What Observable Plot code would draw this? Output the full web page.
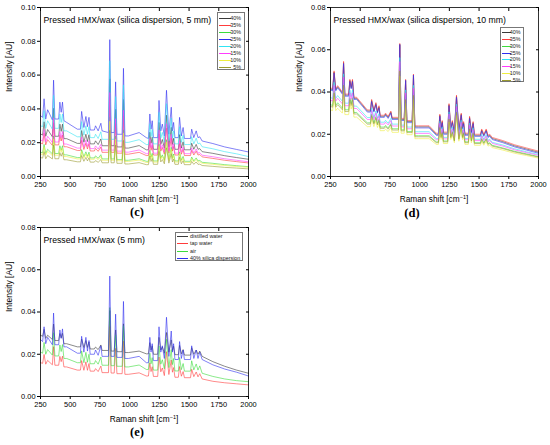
<!DOCTYPE html>
<html><head><meta charset="utf-8">
<script src="https://cdn.jsdelivr.net/npm/d3@7"></script>
<script src="https://cdn.jsdelivr.net/npm/@observablehq/plot@0.6"></script>
<style>
html,body{margin:0;padding:0;background:#fff;}
#page{position:relative;width:550px;height:445px;overflow:hidden;font-family:"Liberation Sans",Arial,sans-serif;color:#000;}
.panel{position:absolute;}
.tag{position:absolute;font-family:"Liberation Serif","Times New Roman",serif;font-weight:bold;font-size:12.5px;transform:translate(-50%,-50%);white-space:nowrap;}
.xlab{position:absolute;font-size:8.3px;transform:translate(-50%,-50%);white-space:nowrap;}
.xlab sup{font-size:5.5px;vertical-align:3px;line-height:0;}
.leg{position:absolute;background:#fff;border:0.6px solid #777;box-sizing:border-box;}
.row{position:absolute;left:0;right:0;font-size:5.4px;line-height:6px;white-space:nowrap;color:#222;}
.sw{position:absolute;height:0;border-top:0.8px solid;}
</style></head>
<body><div id="page"></div>
<script>
// ---------- data (intensities in units of 0.001 AU) ----------
const ramanShift = [250,268,280,294,310,350,360,371,403,413,424,435,447,470,560,586,596,615,632,645,658,668,703,713,735,758,768,822,833,844,870,882,893,937,948,960,990,1080,1140,1158,1170,1180,1190,1200,1236,1247,1262,1275,1292,1310,1330,1350,1360,1370,1381,1410,1420,1435,1450,1461,1512,1522,1540,1560,1575,1590,1610,1700,1800,1900,2000];

const percentLabels = ["40%","35%","30%","25%","20%","15%","10%","5%"];
const waterLabels = ["distilled water","tap water","air","40% silica dispersion"];

// panel (c) silica dispersion, 5 mm
const c40 = [25.2,24.5,32.4,23.8,27.8,23.5,40.4,23.8,23.8,31,26.7,31,22.4,22.4,19.6,19.6,27.2,20.3,25,20.7,24.7,19.3,19.3,21.1,18.9,22.2,18.2,18.2,57.8,18.2,18.2,39.8,17.5,17.5,45.6,16.8,16.8,18.3,15.8,15.8,26.2,19.7,23.3,16.1,16.1,32,19,21.9,16.8,36.3,17.6,29.1,19,22.6,16.1,16.1,24.8,16.8,20.5,15.8,15.8,19.7,16.1,19,16.1,16.5,14.7,13.7,12.3,11.2,10.2];
const c35 = [19.8,19.3,25.6,18.7,21.8,18.4,31.8,18.7,18.7,24.4,21,24.5,17.6,17.6,15.4,15.4,21.4,16,19.7,16.3,19.4,15.1,15.1,16.6,14.9,17.4,14.3,14.3,45.6,14.3,14.3,31.4,13.8,13.8,36,13.2,13.2,14.3,12.4,12.4,20.7,15.5,18.4,12.7,12.7,25.2,15,17.2,13.2,28.6,13.8,22.9,15,17.8,12.7,12.7,19.5,13.2,16.1,12.4,12.4,15.5,12.7,15,12.7,13,11.6,10.7,9.6,8.8,8];
const c30 = [14.4,14,19,13.6,16.1,13.4,24,13.6,13.6,18.2,15.5,18.2,12.8,12.8,11.2,11.2,15.9,11.7,14.6,11.9,14.4,11,11,12.2,10.8,12.9,10.4,10.4,35.2,10.4,10.4,23.9,10,10,27.6,9.6,9.6,10.5,9,9,15.5,11.5,13.7,9.2,9.2,19.1,11,12.8,9.7,21.8,10.1,17.3,11,13.3,9.2,9.2,14.6,9.7,11.9,9,9,11.5,9.2,11,9.2,9.5,8.4,7.8,7,6.4,5.8];
const c25 = [36,35,46,34,39.5,33.5,57,34,34,44,38,44,33,32,28,28,38.5,29,35.5,29.5,35,27.5,27.5,30,27,31.5,27,26,81,26,26,56,25,25,64,24,24,26,23,22.5,37,28,33,23,23,45,27,31,24,51,25,41,27,32,23,23,35,24,29,22.5,22.5,28,23,27,23,23.5,21,19.5,17.5,16,14.5];
const c20 = [30,29.5,39,28.5,33,28,48,28.5,28.5,37,32,37,27,27,23.5,23.5,32.5,24.5,30,25,29.5,23,23,25,22.5,26.5,22,22,68.5,22,22,47.3,21,21,54.2,20.2,20.2,21.8,18.9,18.9,31.2,23.6,27.8,19.3,19.3,38,22.7,26.1,20.2,43.1,21,34.6,22.7,27,19.3,19.3,29.5,20.2,24.4,18.9,18.9,23.6,19.3,22.7,19.3,19.8,17.6,16.4,14.7,13.4,11.8];
const c15 = [21.6,21,27.8,20.4,23.8,20.1,34.7,20.4,20.4,26.6,22.9,26.6,19.2,19.2,16.8,16.8,23.3,17.4,21.5,17.7,21.2,16.5,16.5,18.1,16.2,19,15.6,15.6,49.7,15.6,15.6,34.2,15,15,39.2,14.4,14.4,15.7,13.5,13.5,22.5,16.9,20,13.8,13.8,27.5,16.3,18.8,14.4,31.2,15,25,16.3,19.4,13.8,13.8,21.3,14.4,17.5,13.5,13.5,16.9,13.8,16.3,13.8,14.1,12.6,11.7,10.5,9.6,8.7];
const c10 = [13.3,13,17.6,12.6,14.9,12.4,22.3,12.6,12.6,16.8,14.3,16.8,11.8,11.8,10.4,10.4,14.8,10.8,13.5,11,13.3,10.2,10.2,11.3,10,11.9,9.6,9.6,32.7,9.6,9.6,22.2,9.3,9.3,25.7,8.9,8.9,9.7,8.3,8.3,14.4,10.6,12.7,8.5,8.5,17.8,10.2,11.9,8.9,20.3,9.4,16.1,10.2,12.3,8.5,8.5,13.6,8.9,11,8.3,8.3,10.6,8.5,10.2,8.5,8.7,7.8,7.2,6.5,5.9,5.4];
const c5 = [11.2,10.9,14.7,10.5,12.4,10.4,18.6,10.5,10.5,14.1,12,14.1,9.9,9.9,8.7,8.7,12.4,9,11.3,9.2,11.1,8.5,8.5,9.4,8.4,10,8.1,8.1,27.3,8.1,8.1,18.6,7.8,7.8,21.4,7.4,7.4,8.2,7,7,12.1,8.9,10.7,7.2,7.2,14.9,8.6,10,7.5,17,7.9,13.5,8.6,10.3,7.2,7.2,11.4,7.5,9.3,7,7,8.9,7.2,8.6,7.2,7.3,6.5,6,5.4,5,4.5];

// panel (d) silica dispersion, 10 mm
const d40 = [41.5,41,49.5,41,42.5,39.5,54,38.5,38.5,45.5,42,45.5,37,37,31,31,36,31,34.5,30.5,33,28.5,28.5,29.5,28,30.5,27.5,27.5,62.5,27,27,45.5,26,26,48,23.5,23.5,23.5,20,20,29,23,26,20.5,20.5,34,23,26,21,38,22,29.5,23,25.5,20,20,28,21,25.5,19.5,19.5,22,19.5,22,19,19.5,18,16.5,14.5,13,11.5];
const d35 = [42,41.5,50,41.5,43,40,54.5,39,39,46,42.5,46,37.5,37.5,31.5,31.5,36.5,31.5,35,31,33.5,29,29,30,28.5,31,28,28,63,27.5,27.5,46,26.5,26.5,48.5,24,24,24,20.5,20.5,29.5,23.5,26.5,21,21,34.5,23.5,26.5,21.5,38.5,22.5,30,23.5,26,20.5,20.5,28.5,21.5,26,20,20,22.5,20,22.5,19.5,20,18.5,17,15,13.5,12];
const d30 = [34,33.6,40.6,33.6,34.9,32.4,44.3,31.6,31.6,37.3,34.4,37.3,30.3,30.3,25.4,25.4,29.5,25.4,28.3,25,27.1,23.4,23.4,24.2,23,25,22.6,22.6,51.3,22.1,22.1,37.3,21.3,21.3,39.4,19.3,19.3,19.3,16.4,16.4,23.8,18.9,21.3,16.8,16.8,27.9,18.9,21.3,17.2,31.2,18,24.2,18.9,20.9,16.4,16.4,23,17.2,20.9,16,16,18,16,18,15.6,16,14.8,13.5,11.9,10.7,9.4];
const d25 = [41,40.5,49,40.5,42,39,53.5,38,38,45,41.5,45,36.5,36.5,30.5,30.5,35.5,30.5,34,30,32.5,28,28,29,27.5,30,27,27,62.5,26.5,26.5,45.5,25.5,25.5,48,23,23,23,19.5,19.5,28.5,22.5,25.5,20,20,33.5,22.5,25.5,20.5,37.5,21.5,29,22.5,25,19.5,19.5,27.5,20.5,25,19,19,21.5,19,21.5,18.5,19,17.5,16,14,12.5,11];
const d20 = [37.4,36.9,44.6,36.9,38.3,35.6,48.6,34.7,34.7,41,37.8,41,33.3,33.3,27.9,27.9,32.4,27.9,31,27.5,29.7,25.7,25.7,26.6,25.2,27.5,24.8,24.8,56.3,24.3,24.3,41,23.4,23.4,43.2,21.2,21.2,21.2,18,18,26.1,20.7,23.4,18.5,18.5,30.6,20.7,23.4,18.9,34.2,19.8,26.6,20.7,23,18,18,25.2,18.9,23,17.6,17.6,19.8,17.6,19.8,17.1,17.6,16.2,14.9,13.1,11.7,10.4];
const d15 = [36.1,35.7,43.1,35.7,37,34.4,47,33.5,33.5,39.6,36.5,39.6,32.2,32.2,27,27,31.3,27,30,26.5,28.7,24.8,24.8,25.7,24.4,26.5,23.9,23.9,54.4,23.5,23.5,39.6,22.6,22.6,41.8,20.4,20.4,20.4,17.4,17.4,25.2,20,22.6,17.8,17.8,29.6,20,22.6,18.3,33.1,19.1,25.7,20,22.2,17.4,17.4,24.4,18.3,22.2,17,17,19.1,17,19.1,16.5,17,15.7,14.4,12.6,11.3,10];
const d10 = [31.5,31.2,37.6,31.2,32.3,30,41,29.3,29.3,34.6,31.9,34.6,28.1,28.1,23.6,23.6,27.4,23.6,26.2,23.2,25.1,21.7,21.7,22.4,21.3,23.2,20.9,20.9,47.5,20.5,20.5,34.6,19.8,19.8,36.5,17.9,17.9,17.9,15.2,15.2,22,17.5,19.8,15.6,15.6,25.8,17.5,19.8,16,28.9,16.7,22.4,17.5,19.4,15.2,15.2,21.3,16,19.4,14.8,14.8,16.7,14.8,16.7,14.4,14.8,13.7,12.5,11,9.9,8.7];
const d5 = [33.2,32.8,39.6,32.8,34,31.6,43.2,30.8,30.8,36.4,33.6,36.4,29.6,29.6,24.8,24.8,28.8,24.8,27.6,24.4,26.4,22.8,22.8,23.6,22.4,24.4,22,22,50,21.6,21.6,36.4,20.8,20.8,38.4,18.8,18.8,18.8,16,16,23.2,18.4,20.8,16.4,16.4,27.2,18.4,20.8,16.8,30.4,17.6,23.6,18.4,20.4,16,16,22.4,16.8,20.4,15.6,15.6,17.6,15.6,17.6,15.2,15.6,14.4,13.2,11.6,10.4,9.2];

// panel (e) 5 mm, different media
const eDistilled = [29,28.5,31.8,27.5,29,27,34.3,26.5,26.5,29.8,27.8,29.9,25,25,23.5,23.5,27.2,23.2,26.5,23.2,25.8,22.5,22.5,23.4,22.2,24.4,21.8,21.8,40.7,21.5,21.5,31.5,21.2,21.2,34.4,20.8,20.8,21.5,20.2,20.2,25.5,22,24,20,20,28,22,23.5,20.5,30.3,21,26.8,21.8,23.8,19.8,19.8,24.2,20.2,22.2,19.6,19.6,23.1,20,22,20,21.5,19,16.5,14.3,12.5,11];
const eTap = [16,15.7,19.9,15.3,17.1,15,23.6,14.8,14.8,19,16.5,19.1,14,14,12.5,12.5,17,12.4,16.4,12.4,15.6,12,12,13.2,11.8,14.4,11.3,11.3,33.2,11.1,11.1,22.8,10.8,10.8,26.2,10.5,10.5,11.2,9.7,9.7,15.9,11.8,14.1,9.5,9.5,18.7,11.7,13.5,9.9,21.2,10.4,17.3,11.5,13.7,9.1,9.1,14.2,9.6,11.8,8.9,8.9,12.9,9.4,11.6,9.3,10.8,8.3,7.2,6.5,6,5.5];
const eAir = [21,20.5,25.6,20,22.2,19.6,30.2,19.2,19.2,24.4,21.3,24.6,18,18,16,16,21.6,16,20.9,16.2,20,15.5,15.5,17,15.3,18.7,14.8,14.8,42.1,14.6,14.6,29.1,14.3,14.3,33.5,14,14,14.9,12.8,12.8,20.5,15.5,18.4,12.5,12.5,23.9,15.3,17.4,13.1,27.1,13.7,22.2,15.1,18,12.1,12.1,18.5,12.7,15.6,12,12,16.9,12.6,15.4,12.5,14.5,11,9.5,8.3,7.5,7];
const eSilica = [27,26,33,25,28,24.5,39.5,24.5,24.5,31.5,27.5,32,23.5,23.5,20.5,20.5,28.5,21,28,21.5,26.5,20,20,22,19.5,24,19,19,57,19,19,39,18.5,18.5,45,18,18,19,16,16,28,21,25,17,17,33,21,24,18,37.5,19,31,21,25,17.5,17.5,26,18,22,17.5,17.5,24,18,22,18,21,17.5,15,13,11.5,9.7];

const xTicks = [250,500,750,1000,1250,1500,1750,2000];
const yTicksC = [0,0.02,0.04,0.06,0.08,0.10];
const yTicksDE = [0,0.02,0.04,0.06,0.08];

// ---------- drawing ----------
const colors8 = ["#3a3a3a","#ff3c3c","#3cdc3c","#2e2ef0","#30e4f4","#ff3cff","#eeee40","#9a9a30"];
const colors4 = ["#3a3a3a","#ff3c3c","#3cdc3c","#2e2ef0"];
const FONT = "'Liberation Sans', Arial, sans-serif";

function rows(names, arrays) {
  return names.flatMap((n, k) => arrays[k].map((v, i) => ({x: ramanShift[i], y: v / 1000, s: n})));
}

function panel({names, arrays, colors, yMax, yTicks, title, ml, mr}) {
  return Plot.plot({
    width: 275, height: 220,
    marginLeft: ml, marginRight: mr, marginTop: 7, marginBottom: 44,
    style: {fontFamily: FONT, fontSize: "7.4px", color: "#000", background: "transparent", overflow: "visible"},
    x: {domain: [250, 2000]},
    y: {domain: [0, yMax]},
    color: {domain: names, range: colors},
    marks: [
      Plot.line(rows(names, arrays), {x: "x", y: "y", z: "s", stroke: "s", strokeWidth: 0.8, strokeOpacity: 0.75}),
      Plot.frame({stroke: "#000", strokeWidth: 0.8}),
      Plot.axisX({ticks: xTicks, anchor: "bottom", tickSize: 3, tickPadding: 2, label: null, tickFormat: d => String(d)}),
      Plot.axisX({ticks: xTicks, anchor: "top", tickSize: -3, label: null, tickFormat: () => ""}),
      Plot.axisY({ticks: yTicks, anchor: "left", tickSize: 3, tickPadding: 2, label: null, tickFormat: d3.format(".2f")}),
      Plot.axisY({ticks: yTicks, anchor: "right", tickSize: -3, label: null, tickFormat: () => ""}),
      Plot.text([title], {text: d => d, frameAnchor: "top-left", dx: 3, dy: 9.5, textAnchor: "start", fontSize: 8.7}),
      Plot.text(["Intensity [AU]"], {text: d => d, frameAnchor: "left", dx: -31, rotate: -90, fontSize: 8.5})
    ]
  });
}

const page = document.getElementById("page");
function place(el, left, top) { el.classList.add("panel"); el.style.left = left + "px"; el.style.top = top + "px"; page.appendChild(el); }
function addDiv(cls, html, x, y) { const d = document.createElement("div"); d.className = cls; d.innerHTML = html; d.style.left = x + "px"; d.style.top = y + "px"; page.appendChild(d); return d; }

function legend(names, colors, {left, top, width, height, first, step, swL, swW, textRight, textLeft}) {
  const box = addDiv("leg", "", left, top);
  box.style.width = width + "px"; box.style.height = height + "px";
  names.forEach((n, k) => {
    const r = document.createElement("div"); r.className = "row";
    r.style.top = (first + k * step - 3) + "px"; r.style.height = "6px";
    const sw = document.createElement("div"); sw.className = "sw";
    sw.style.left = swL + "px"; sw.style.width = swW + "px"; sw.style.top = "3px"; sw.style.borderTopColor = colors[k];
    r.appendChild(sw);
    const t = document.createElement("span"); t.textContent = n; t.style.position = "absolute";
    if (textRight != null) t.style.right = textRight + "px"; else t.style.left = textLeft + "px";
    r.appendChild(t);
    box.appendChild(r);
  });
}

place(panel({names: percentLabels, arrays: [c40,c35,c30,c25,c20,c15,c10,c5], colors: colors8, yMax: 0.10, yTicks: yTicksC,
  title: "Pressed HMX/wax (silica dispersion, 5 mm)", ml: 40, mr: 27}), 0, 0);
place(panel({names: percentLabels, arrays: [d40,d35,d30,d25,d20,d15,d10,d5], colors: colors8, yMax: 0.08, yTicks: yTicksDE,
  title: "Pressed HMX/wax (silica dispersion, 10 mm)", ml: 55, mr: 12}), 275, 0);
place(panel({names: waterLabels, arrays: [eDistilled,eTap,eAir,eSilica], colors: colors4, yMax: 0.08, yTicks: yTicksDE,
  title: "Pressed HMX/wax (5 mm)", ml: 40, mr: 27}), 0, 220);

const xl = "Raman shift [cm<sup>−1</sup>]";
addDiv("xlab", xl, 144, 199);
addDiv("xlab", xl, 434, 199);
addDiv("xlab", xl, 144, 419);
addDiv("tag", "(c)", 137, 212);
addDiv("tag", "(d)", 412, 213);
addDiv("tag", "(e)", 137, 432);

legend(percentLabels, colors8, {left: 217, top: 11.5, width: 28, height: 58.5, first: 5, step: 7.04, swL: 1, swW: 12, textRight: 3});
legend(percentLabels, colors8, {left: 500, top: 27, width: 23.5, height: 55, first: 4, step: 6.85, swL: 1, swW: 9, textRight: 2});
legend(waterLabels, colors4, {left: 175, top: 232, width: 68, height: 29, first: 3.3, step: 7.15, swL: 1, swW: 11, textLeft: 14});
</script>
</body></html>
